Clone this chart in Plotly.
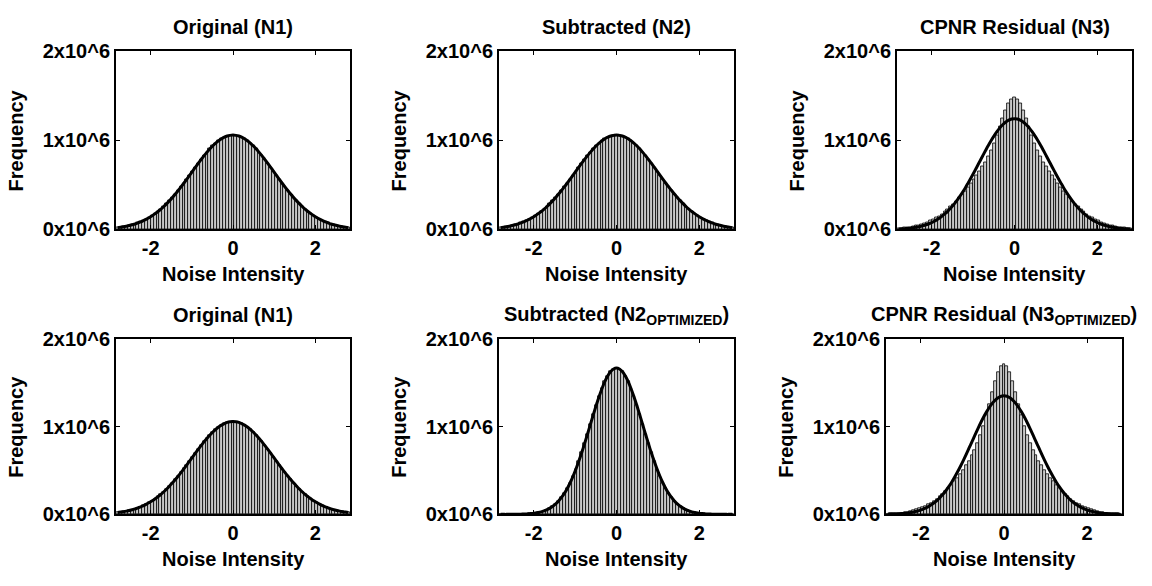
import plotly.graph_objects as go

# ---------------- data (frequencies in units of 10^6) ----------------
bin_centers = [-2.80, -2.73, -2.66, -2.59, -2.52, -2.45, -2.38, -2.31, -2.24, -2.17,
               -2.10, -2.03, -1.96, -1.89, -1.82, -1.75, -1.68, -1.61, -1.54, -1.47,
               -1.40, -1.33, -1.26, -1.19, -1.12, -1.05, -0.98, -0.91, -0.84, -0.77,
               -0.70, -0.63, -0.56, -0.49, -0.42, -0.35, -0.28, -0.21, -0.14, -0.07,
               0.00,
               0.07, 0.14, 0.21, 0.28, 0.35, 0.42, 0.49, 0.56, 0.63, 0.70,
               0.77, 0.84, 0.91, 0.98, 1.05, 1.12, 1.19, 1.26, 1.33, 1.40,
               1.47, 1.54, 1.61, 1.68, 1.75, 1.82, 1.89, 1.96, 2.03, 2.10,
               2.17, 2.24, 2.31, 2.38, 2.45, 2.52, 2.59, 2.66, 2.73, 2.80]

n1_counts = [0.021, 0.026, 0.031, 0.037, 0.044, 0.053, 0.062, 0.074, 0.086, 0.101,
             0.117, 0.135, 0.155, 0.178, 0.202, 0.229, 0.258, 0.290, 0.324, 0.360,
             0.398, 0.438, 0.479, 0.522, 0.566, 0.611, 0.656, 0.701, 0.745, 0.788,
             0.830, 0.869, 0.906, 0.940, 0.971, 0.997, 1.019, 1.037, 1.050, 1.057,
             1.060,
             1.057, 1.050, 1.037, 1.019, 0.997, 0.971, 0.940, 0.906, 0.869, 0.830,
             0.788, 0.745, 0.701, 0.656, 0.611, 0.566, 0.522, 0.479, 0.438, 0.398,
             0.360, 0.324, 0.290, 0.258, 0.229, 0.202, 0.178, 0.155, 0.135, 0.117,
             0.101, 0.086, 0.074, 0.062, 0.053, 0.044, 0.037, 0.031, 0.026, 0.021]

n2_counts = [0.021, 0.026, 0.031, 0.037, 0.044, 0.053, 0.062, 0.074, 0.086, 0.101,
             0.117, 0.135, 0.155, 0.178, 0.202, 0.229, 0.258, 0.290, 0.324, 0.360,
             0.398, 0.438, 0.479, 0.522, 0.566, 0.611, 0.656, 0.701, 0.745, 0.788,
             0.830, 0.869, 0.906, 0.940, 0.971, 0.997, 1.019, 1.037, 1.050, 1.057,
             1.062,
             1.057, 1.050, 1.037, 1.019, 0.997, 0.971, 0.940, 0.906, 0.869, 0.830,
             0.788, 0.745, 0.701, 0.656, 0.611, 0.566, 0.522, 0.479, 0.438, 0.398,
             0.360, 0.324, 0.290, 0.258, 0.229, 0.202, 0.178, 0.155, 0.135, 0.117,
             0.101, 0.086, 0.074, 0.062, 0.053, 0.044, 0.037, 0.031, 0.026, 0.021]

n3_counts = [0.012, 0.015, 0.019, 0.023, 0.028, 0.034, 0.041, 0.049, 0.059, 0.070,
             0.082, 0.097, 0.113, 0.131, 0.151, 0.174, 0.199, 0.226, 0.255, 0.286,
             0.320, 0.356, 0.394, 0.433, 0.473, 0.516, 0.560, 0.604, 0.653, 0.703,
             0.758, 0.819, 0.890, 0.970, 1.059, 1.154, 1.251, 1.341, 1.413, 1.462,
             1.478,
             1.462, 1.413, 1.341, 1.251, 1.154, 1.059, 0.970, 0.890, 0.819, 0.758,
             0.703, 0.653, 0.604, 0.560, 0.516, 0.473, 0.433, 0.394, 0.356, 0.320,
             0.286, 0.255, 0.226, 0.199, 0.174, 0.151, 0.131, 0.113, 0.097, 0.082,
             0.070, 0.059, 0.049, 0.041, 0.034, 0.028, 0.023, 0.019, 0.015, 0.012]

n3_fit = [0.005, 0.007, 0.009, 0.012, 0.015, 0.020, 0.025, 0.031, 0.039, 0.048,
          0.059, 0.072, 0.087, 0.105, 0.126, 0.150, 0.177, 0.207, 0.241, 0.279,
          0.321, 0.366, 0.415, 0.467, 0.523, 0.581, 0.641, 0.702, 0.764, 0.826,
          0.887, 0.946, 1.002, 1.054, 1.102, 1.144, 1.179, 1.208, 1.228, 1.241,
          1.245,
          1.241, 1.228, 1.208, 1.179, 1.144, 1.102, 1.054, 1.002, 0.946, 0.887,
          0.826, 0.764, 0.702, 0.641, 0.581, 0.523, 0.467, 0.415, 0.366, 0.321,
          0.279, 0.241, 0.207, 0.177, 0.150, 0.126, 0.105, 0.087, 0.072, 0.059,
          0.048, 0.039, 0.031, 0.025, 0.020, 0.015, 0.012, 0.009, 0.007, 0.005]

n2opt_counts = [0.000, 0.000, 0.000, 0.001, 0.001, 0.001, 0.002, 0.002, 0.004, 0.005,
                0.008, 0.011, 0.015, 0.021, 0.029, 0.040, 0.053, 0.071, 0.092, 0.119,
                0.153, 0.193, 0.240, 0.296, 0.361, 0.435, 0.517, 0.608, 0.706, 0.810,
                0.918, 1.029, 1.139, 1.246, 1.346, 1.438, 1.518, 1.582, 1.631, 1.660,
                1.670,
                1.660, 1.631, 1.582, 1.518, 1.438, 1.346, 1.246, 1.139, 1.029, 0.918,
                0.810, 0.706, 0.608, 0.517, 0.435, 0.361, 0.296, 0.240, 0.193, 0.153,
                0.119, 0.092, 0.071, 0.053, 0.040, 0.029, 0.021, 0.015, 0.011, 0.008,
                0.005, 0.004, 0.002, 0.002, 0.001, 0.001, 0.001, 0.000, 0.000, 0.000]

n3opt_counts = [0.006, 0.008, 0.010, 0.012, 0.016, 0.019, 0.024, 0.030, 0.037, 0.045,
                0.054, 0.066, 0.079, 0.094, 0.111, 0.130, 0.152, 0.176, 0.203, 0.233,
                0.265, 0.300, 0.337, 0.377, 0.418, 0.463, 0.509, 0.558, 0.611, 0.670,
                0.736, 0.813, 0.903, 1.010, 1.130, 1.261, 1.396, 1.521, 1.625, 1.693,
                1.717,
                1.693, 1.625, 1.521, 1.396, 1.261, 1.130, 1.010, 0.903, 0.813, 0.736,
                0.670, 0.611, 0.558, 0.509, 0.463, 0.418, 0.377, 0.337, 0.300, 0.265,
                0.233, 0.203, 0.176, 0.152, 0.130, 0.111, 0.094, 0.079, 0.066, 0.054,
                0.045, 0.037, 0.030, 0.024, 0.019, 0.016, 0.012, 0.010, 0.008, 0.006]

n3opt_fit = [0.002, 0.003, 0.004, 0.005, 0.007, 0.010, 0.013, 0.017, 0.022, 0.028,
             0.036, 0.046, 0.058, 0.072, 0.089, 0.109, 0.133, 0.161, 0.193, 0.229,
             0.270, 0.316, 0.367, 0.423, 0.483, 0.547, 0.614, 0.685, 0.758, 0.831,
             0.904, 0.976, 1.046, 1.111, 1.170, 1.223, 1.269, 1.305, 1.331, 1.348,
             1.353,
             1.348, 1.331, 1.305, 1.269, 1.223, 1.170, 1.111, 1.046, 0.976, 0.904,
             0.831, 0.758, 0.685, 0.614, 0.547, 0.483, 0.423, 0.367, 0.316, 0.270,
             0.229, 0.193, 0.161, 0.133, 0.109, 0.089, 0.072, 0.058, 0.046, 0.036,
             0.028, 0.022, 0.017, 0.013, 0.010, 0.007, 0.005, 0.004, 0.003, 0.002]

titles = ["Original (N1)", "Subtracted (N2)", "CPNR Residual (N3)",
          "Original (N1)", "Subtracted (N2<sub>OPTIMIZED</sub>)",
          "CPNR Residual (N3<sub>OPTIMIZED</sub>)"]
x_ticks = [-2, 0, 2]
x_tick_labels = ["-2", "0", "2"]
y_ticks = [0, 1, 2]
y_tick_labels = ["0x10^6", "1x10^6", "2x10^6"]
x_label = "Noise Intensity"
y_label = "Frequency"

hist_series = [n1_counts, n2_counts, n3_counts, n1_counts, n2opt_counts, n3opt_counts]
fit_series = [n1_counts, n2_counts, n3_fit, n1_counts, n2opt_counts, n3opt_fit]

# ---------------- layout geometry (pixels) ----------------
W, H = 1152, 586
boxes = [  # left, right, top, bottom
    (116, 350, 42, 227), (499, 734, 42, 227), (897, 1132, 42, 227),
    (116, 350, 341, 523), (499, 734, 341, 523), (886, 1122, 341, 523),
]

FONT = "Liberation Sans, Arial, Helvetica, sans-serif"

fig = go.Figure()
annotations = []
for i, (box, counts, fit, title) in enumerate(zip(boxes, hist_series, fit_series, titles)):
    n = i + 1
    xa = "x" if n == 1 else f"x{n}"
    ya = "y" if n == 1 else f"y{n}"
    fig.add_trace(go.Bar(x=bin_centers, y=counts, xaxis=xa, yaxis=ya,
                         marker=dict(color="#c8c8c8", line=dict(color="black", width=0.8)),
                         showlegend=False))
    fig.add_trace(go.Scatter(x=bin_centers, y=fit, xaxis=xa, yaxis=ya, mode="lines",
                             line=dict(color="black", width=3, shape="spline"),
                             showlegend=False))
    l, r, t, b = box
    xd = [l / W, r / W]
    yd = [1 - b / H, 1 - t / H]
    axis_common = dict(showline=True, linecolor="black", linewidth=2, mirror="ticks",
                       ticks="inside", ticklen=4, tickwidth=1, tickcolor="black",
                       showgrid=False, zeroline=False,
                       tickfont=dict(family=FONT, size=20, color="black", weight="bold"))
    fig.update_layout({
        ("xaxis" if n == 1 else f"xaxis{n}"): dict(domain=xd, anchor=ya, range=[-2.84, 2.84],
                                                   tickvals=x_ticks, ticktext=x_tick_labels,
                                                   **axis_common),
        ("yaxis" if n == 1 else f"yaxis{n}"): dict(domain=yd, anchor=xa, range=[0, 2],
                                                   tickvals=y_ticks, ticktext=y_tick_labels,
                                                   **axis_common),
    })
    cx = (l + r) / 2 / W
    # title
    annotations.append(dict(text=title, x=cx, y=1 - (t - 25) / H, xref="paper", yref="paper",
                            xanchor="center", yanchor="middle", showarrow=False,
                            font=dict(family=FONT, size=20, color="black", weight="bold")))
    # x label
    annotations.append(dict(text=x_label, x=cx, y=1 - (b + 46) / H, xref="paper", yref="paper",
                            xanchor="center", yanchor="middle", showarrow=False,
                            font=dict(family=FONT, size=20, color="black", weight="bold")))
    # y label
    annotations.append(dict(text=y_label, x=(l - 100) / W, y=1 - (t + b) / 2 / H,
                            xref="paper", yref="paper", textangle=-90,
                            xanchor="center", yanchor="middle", showarrow=False,
                            font=dict(family=FONT, size=20, color="black", weight="bold")))

fig.update_layout(width=W, height=H, margin=dict(l=0, r=0, t=0, b=0),
                  paper_bgcolor="white", plot_bgcolor="white",
                  bargap=0, annotations=annotations, showlegend=False)
fig.write_html("out.html")
